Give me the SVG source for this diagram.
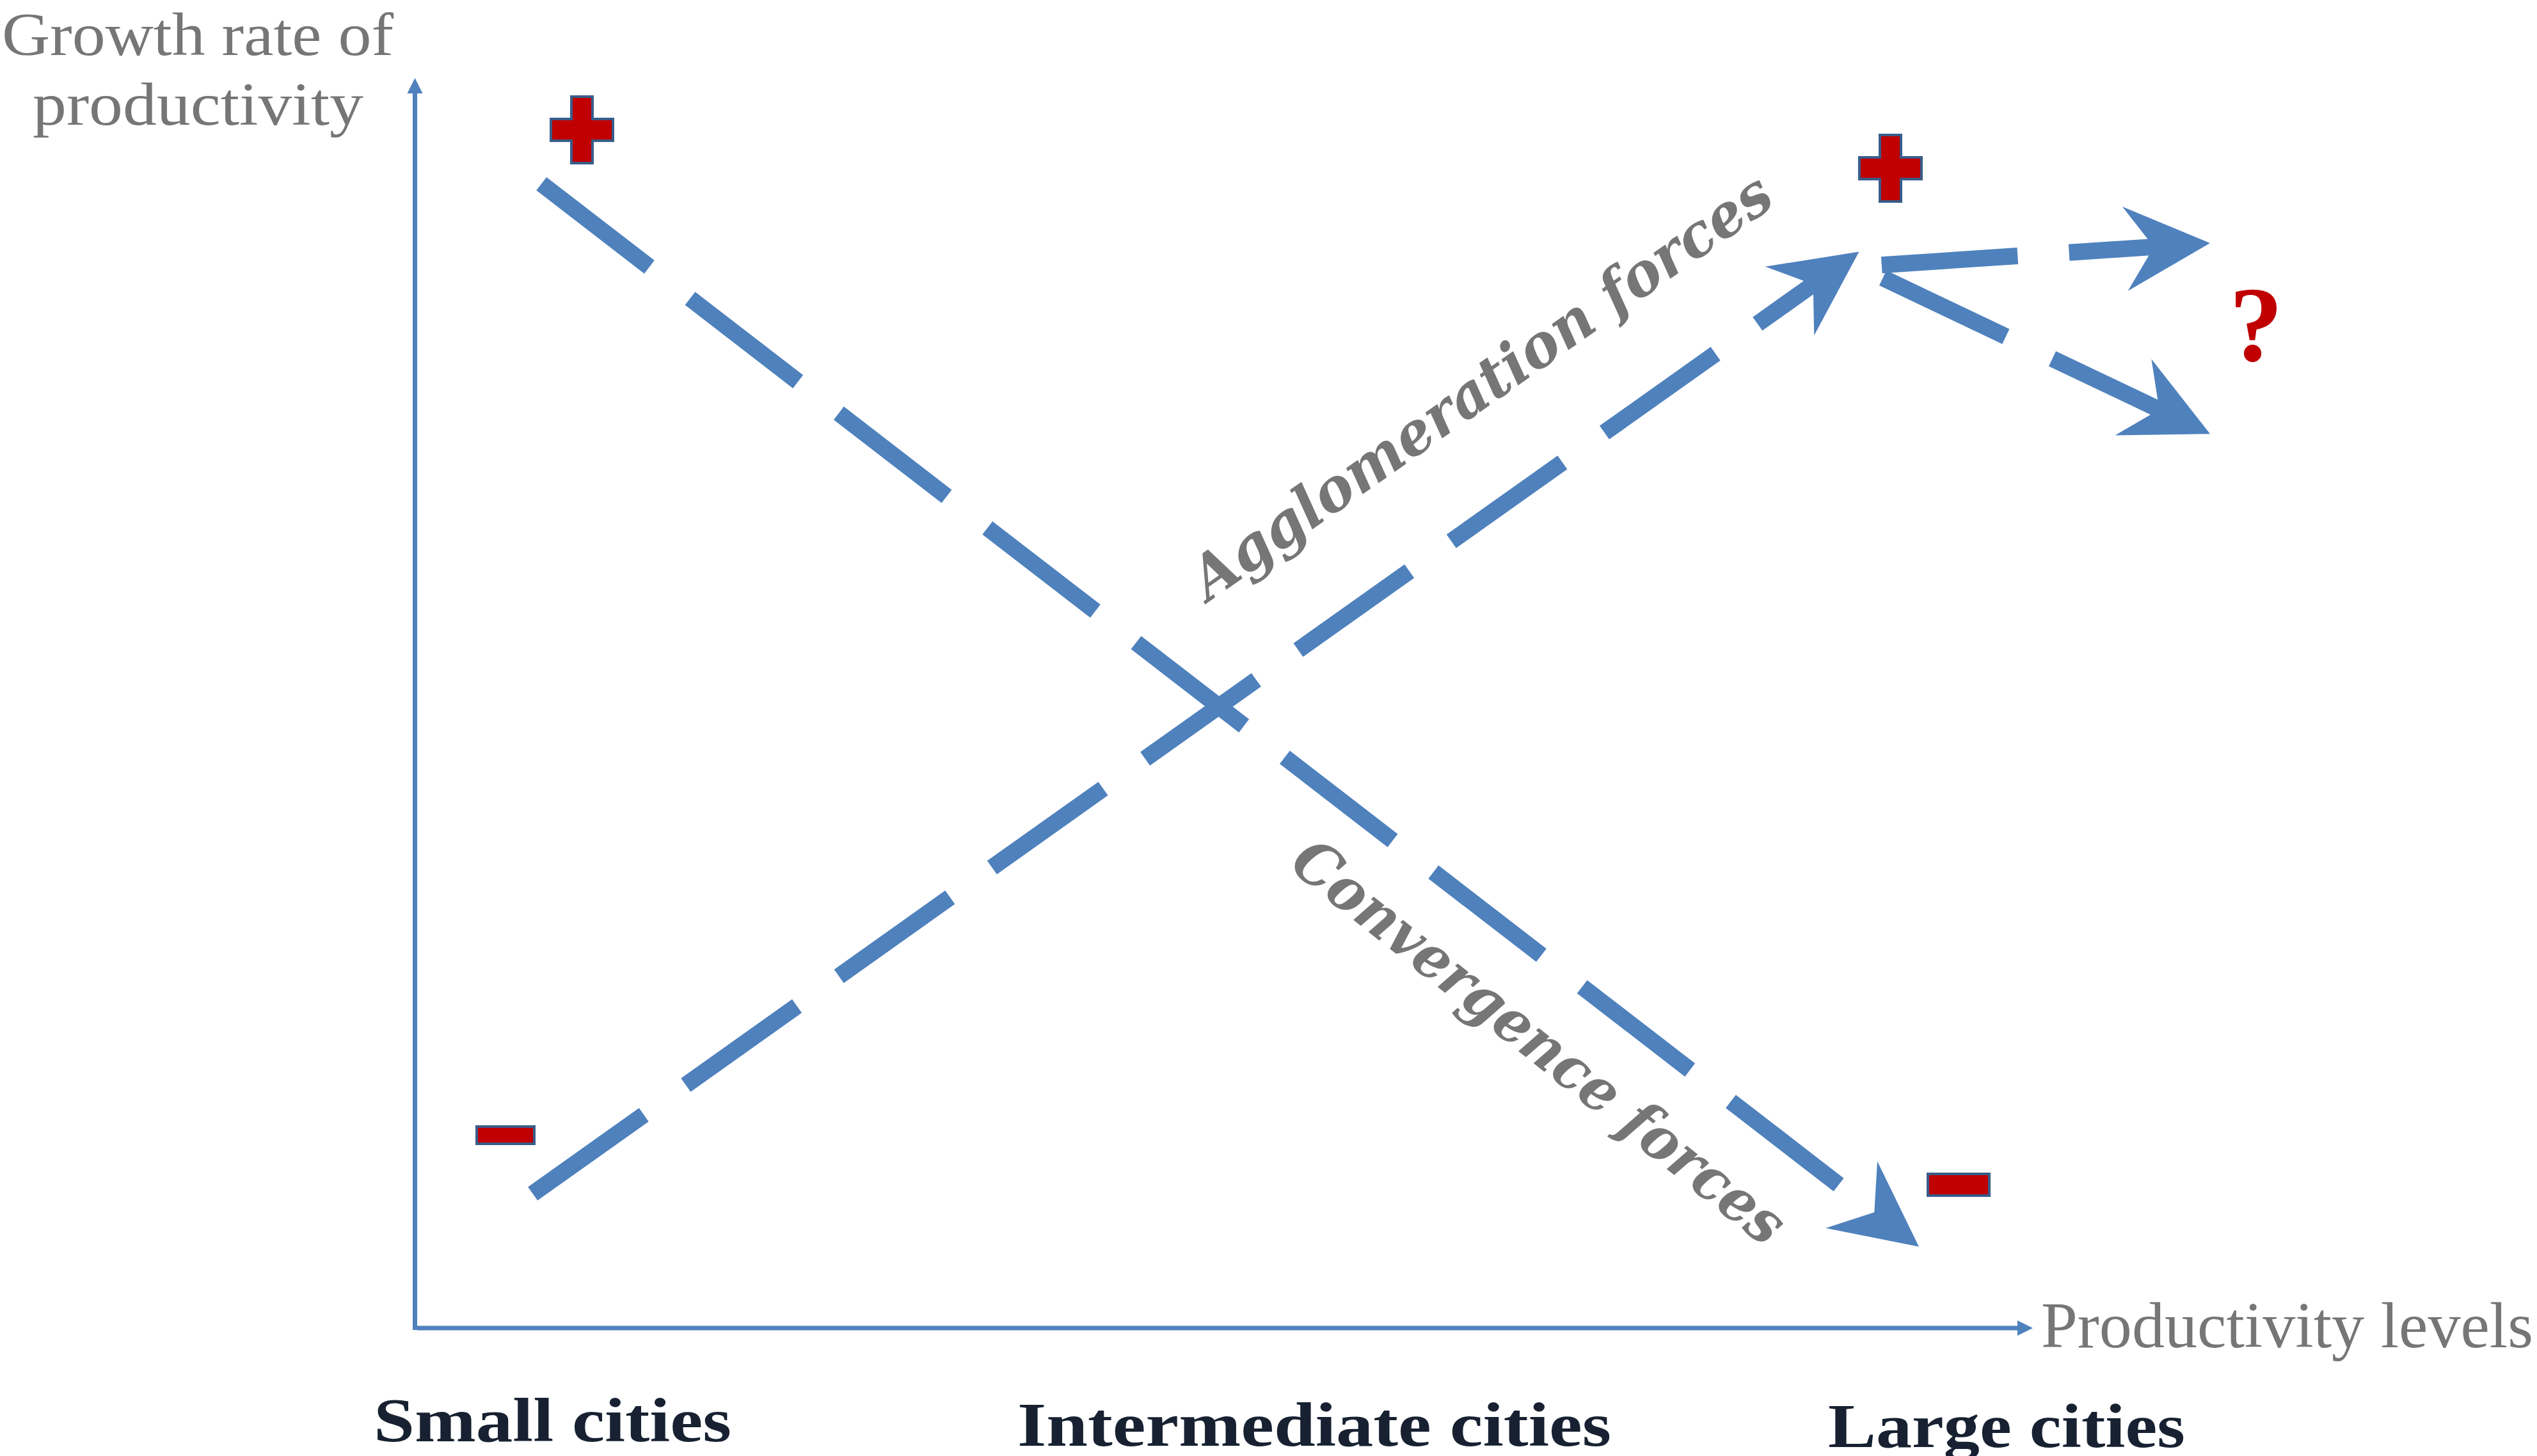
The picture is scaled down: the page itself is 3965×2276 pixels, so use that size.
<svg xmlns="http://www.w3.org/2000/svg" width="3965" height="2276" viewBox="0 0 3965 2276">
  <style>
    .axis { stroke: #4F81BD; stroke-width: 7; fill: none; }
    .force { stroke: #4F81BD; stroke-width: 26; fill: none; stroke-dasharray: 213 80.5; stroke-linecap: butt; }
    .sign { fill: #C00000; stroke: #385D8A; stroke-width: 4; }
    .axis-title { font-family: "Liberation Serif", "Times New Roman", serif; font-size: 102px; fill: #767676; }
    .y-title { font-size: 96px; }
    .city { font-family: "Liberation Serif", "Times New Roman", serif; font-size: 98px; font-weight: bold; fill: #172131; }
    .force-label { font-family: "DejaVu Serif", "Liberation Serif", serif; font-size: 93px; font-weight: bold; font-style: italic; fill: #767676; }
    .query { font-family: "Liberation Serif", "Times New Roman", serif; font-size: 168px; font-weight: bold; fill: #C00000; }
  </style>
  <defs>
    <!-- small triangular head for the axes -->
    <marker id="axisHead" markerUnits="userSpaceOnUse" orient="auto" refX="0" refY="0" markerWidth="30" markerHeight="30" overflow="visible">
      <path d="M 0 -12 L 24 0 L 0 12 Z" fill="#4F81BD"/>
    </marker>
    <!-- stealth head for the force arrows; reference point sits at the notch -->
    <marker id="forceHead" markerUnits="userSpaceOnUse" orient="auto" refX="0" refY="0" markerWidth="140" markerHeight="140" overflow="visible">
      <path d="M 88 0 L -45 -66 L 0 0 L -45 66 Z" fill="#4F81BD"/>
    </marker>
  </defs>

  <rect width="3965" height="2276" fill="#FFFFFF"/>

  <!-- axes -->
  <g id="axes">
    <line class="axis" x1="648.5" y1="2079" x2="648.5" y2="146" marker-end="url(#axisHead)"/>
    <line class="axis" x1="652" y1="2076" x2="3153" y2="2076" marker-end="url(#axisHead)"/>
  </g>

  <!-- dashed force arrows -->
  <g id="connectors">
    <line id="convergence" class="force" x1="846.2" y1="287.2" x2="2929.3" y2="1894.9" marker-end="url(#forceHead)"/>
    <line id="agglomeration" class="force" x1="832.6" y1="1866" x2="2833.7" y2="444.5" marker-end="url(#forceHead)"/>
    <line id="branch-up" class="force" x1="2940.8" y1="414.2" x2="3366.2" y2="385.9" marker-end="url(#forceHead)"/>
    <line id="branch-down" class="force" x1="2942.6" y1="434.4" x2="3374.6" y2="640.3" marker-end="url(#forceHead)"/>
  </g>

  <!-- axis titles -->
  <g id="y-title">
    <text class="axis-title y-title" x="3" y="86" textLength="612" lengthAdjust="spacingAndGlyphs">Growth rate of</text>
    <text class="axis-title y-title" x="51" y="195" textLength="517" lengthAdjust="spacingAndGlyphs">productivity</text>
  </g>
  <g id="x-title">
    <text class="axis-title" x="3190" y="2106" textLength="769" lengthAdjust="spacingAndGlyphs">Productivity levels</text>
  </g>

  <!-- city size labels -->
  <g id="small-cities">
    <text class="city" x="584" y="2253" textLength="559" lengthAdjust="spacingAndGlyphs">Small cities</text>
  </g>
  <g id="intermediate-cities">
    <text class="city" x="1590" y="2260" textLength="928" lengthAdjust="spacingAndGlyphs">Intermediate cities</text>
  </g>
  <g id="large-cities">
    <text class="city" x="2857" y="2262" textLength="558" lengthAdjust="spacingAndGlyphs">Large cities</text>
  </g>

  <!-- force labels -->
  <g id="agglomeration-label">
    <text class="force-label" transform="translate(1889 941) rotate(-35)" textLength="1085" lengthAdjust="spacingAndGlyphs">Agglomeration forces</text>
  </g>
  <g id="convergence-label">
    <text class="force-label" transform="translate(2012 1356) rotate(38.5)" textLength="955" lengthAdjust="spacingAndGlyphs">Convergence forces</text>
  </g>

  <!-- plus / minus signs -->
  <g id="plus-small">
    <path class="sign" d="M 893 151 H 926 V 186 H 958 V 220 H 926 V 255 H 893 V 220 H 861 V 186 H 893 Z"/>
  </g>
  <g id="plus-large">
    <path class="sign" d="M 2938 211 H 2971 V 246 H 3003 V 280 H 2971 V 315 H 2938 V 280 H 2906 V 246 H 2938 Z"/>
  </g>
  <g id="minus-small">
    <rect class="sign" x="745" y="1761" width="90" height="27"/>
  </g>
  <g id="minus-large">
    <rect class="sign" x="3013" y="1835" width="96" height="34"/>
  </g>

  <!-- open question on the large-city outcome -->
  <g id="question">
    <text class="query" x="3526" y="564" text-anchor="middle">?</text>
  </g>
</svg>
